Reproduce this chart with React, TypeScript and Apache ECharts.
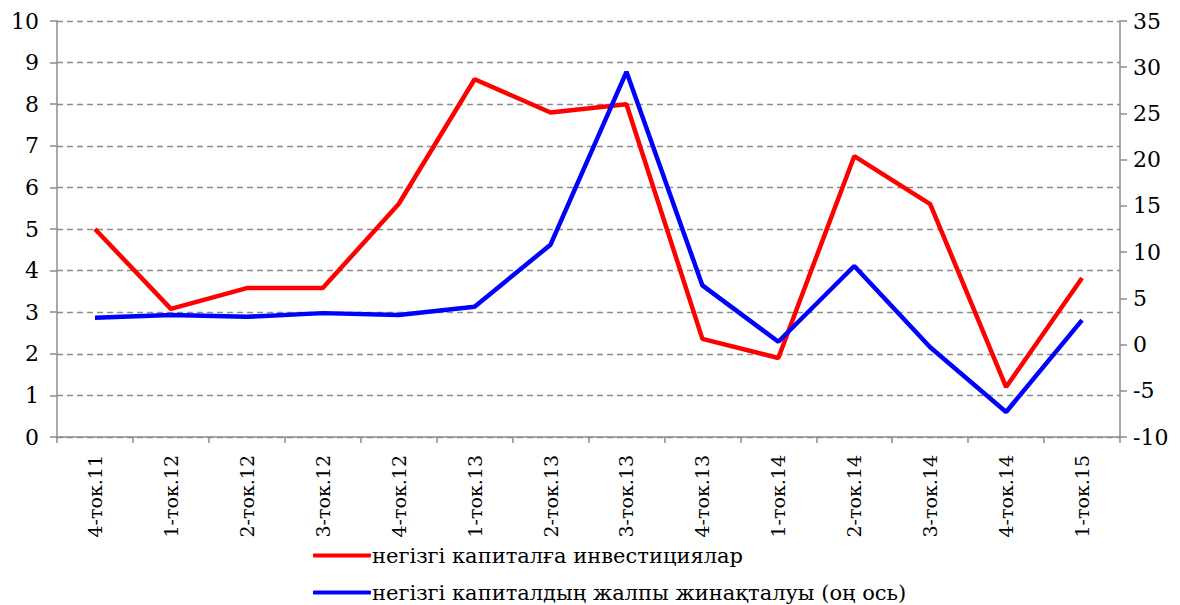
import React, { useEffect, useRef } from "react";
import * as echarts from "echarts";

const categories = [
  "4-ток.11", "1-ток.12", "2-ток.12", "3-ток.12", "4-ток.12", "1-ток.13", "2-ток.13",
  "3-ток.13", "4-ток.13", "1-ток.14", "2-ток.14", "3-ток.14", "4-ток.14", "1-ток.15",
];
const investments = [5.0, 3.08, 3.58, 3.58, 5.6, 8.6, 7.8, 8.0, 2.36, 1.9, 6.75, 5.6, 1.2, 3.82];
const grossFormation = [2.9, 3.2, 3.0, 3.4, 3.2, 4.1, 10.8, 29.5, 6.4, 0.3, 8.5, -0.3, -7.3, 2.65];
const seriesNames = [
  "негізгі капиталға инвестициялар",
  "негізгі капиталдың жалпы жинақталуы (оң ось)",
];

const FONT = "DejaVu Serif";
const AXIS_GREY = "#8c8c8c";

export default function App() {
  const ref = useRef<HTMLDivElement>(null);
  useEffect(() => {
    if (!ref.current) return;
    const chart = echarts.init(ref.current, null, { renderer: "svg" });
    const legendCommon = {
      orient: "horizontal",
      left: 313,
      padding: 0,
      itemWidth: 58,
      itemHeight: 4,
      icon: "roundRect",
      textStyle: { fontFamily: FONT, fontSize: 21, color: "#000", padding: [0, 0, 0, -4] },
    };
    chart.setOption({
      animation: false,
      backgroundColor: "#ffffff",
      textStyle: { fontFamily: FONT },
      grid: { left: 57, right: 60, top: 21, bottom: 168, containLabel: false },
      legend: [
        { ...legendCommon, top: 545, data: [seriesNames[0]] },
        { ...legendCommon, top: 582, data: [seriesNames[1]] },
      ],
      xAxis: {
        type: "category",
        data: categories,
        boundaryGap: true,
        axisLine: { lineStyle: { color: AXIS_GREY, width: 1.5 } },
        axisTick: { show: true, length: 6, lineStyle: { color: AXIS_GREY, width: 1.5 } },
        axisLabel: { rotate: 90, fontFamily: FONT, fontSize: 19, color: "#000", margin: 18, interval: 0 },
      },
      yAxis: [
        {
          type: "value",
          min: 0,
          max: 10,
          interval: 1,
          position: "left",
          axisLine: { show: true, lineStyle: { color: AXIS_GREY, width: 1.5 } },
          axisTick: { show: true, length: 7, lineStyle: { color: AXIS_GREY, width: 1.5 } },
          axisLabel: { fontFamily: FONT, fontSize: 22, color: "#000", margin: 18 },
          splitLine: { show: true, lineStyle: { color: "#8c8c8c", type: [6, 4], width: 1.3 } },
        },
        {
          type: "value",
          min: -10,
          max: 35,
          interval: 5,
          position: "right",
          axisLine: { show: true, lineStyle: { color: AXIS_GREY, width: 1.5 } },
          axisTick: { show: true, length: 7, lineStyle: { color: AXIS_GREY, width: 1.5 } },
          axisLabel: { fontFamily: FONT, fontSize: 22, color: "#000", margin: 13 },
          splitLine: { show: false },
        },
      ],
      series: [
        {
          name: seriesNames[0],
          type: "line",
          yAxisIndex: 0,
          data: investments,
          showSymbol: false,
          symbol: "none",
          itemStyle: { color: "#ff0000" },
          lineStyle: { color: "#ff0000", width: 4.5 },
          z: 3,
        },
        {
          name: seriesNames[1],
          type: "line",
          yAxisIndex: 1,
          data: grossFormation,
          showSymbol: false,
          symbol: "none",
          itemStyle: { color: "#0000ff" },
          lineStyle: { color: "#0000ff", width: 4.5 },
          z: 4,
        },
      ],
    });
    return () => chart.dispose();
  }, []);
  return (
    <div
      ref={ref}
      style={{ position: "fixed", left: 0, top: 0, width: 1180, height: 605, background: "#fff" }}
    />
  );
}
